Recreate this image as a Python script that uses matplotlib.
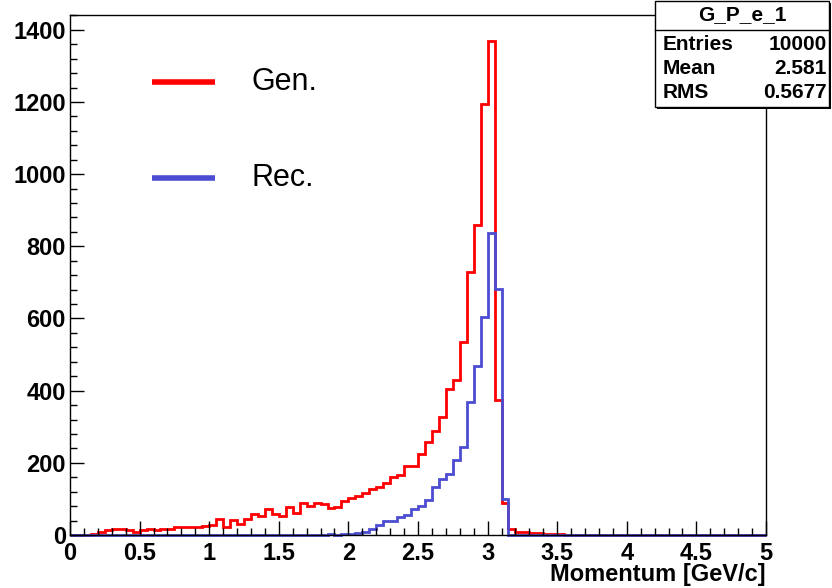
import numpy as np
import matplotlib
matplotlib.use('Agg')
import matplotlib.pyplot as plt
from matplotlib.ticker import MultipleLocator
from matplotlib.patches import Rectangle
from matplotlib.lines import Line2D

plt.rcParams['font.family'] = ['Liberation Sans', 'DejaVu Sans']

# ---- data (100 bins, 0..5 GeV/c) ----
bin_edges = np.linspace(0.0, 5.0, 101)
gen_counts = [0, 0, 1, 2, 7, 13, 18, 18, 13, 9,
              15, 17, 13, 18, 18, 21, 21, 21, 23, 26,
              28, 44, 22, 42, 31, 45, 57, 54, 73, 59,
              52, 78, 61, 89, 79, 89, 87, 76, 78, 94,
              103, 107, 117, 127, 133, 145, 162, 166, 192, 192,
              224, 259, 289, 326, 405, 430, 536, 730, 859, 1195,
              1370, 374, 88, 18, 9, 8, 6, 5, 3, 3,
              2, 1, 1] + [0] * 27
rec_counts = [0] * 28 + [0, 1, 0, 1, 1, 0, 1, 1, 1, 2, 1, 2] + \
             [2, 5, 9, 17, 27, 38, 38, 51, 55, 73,
              80, 97, 134, 156, 168, 207, 244, 369, 467, 605,
              838, 682, 100] + [0] * 37
legend_labels = ['Gen.', 'Rec.']
stats_title = 'G_P_e_1'
stats_rows = [('Entries', '10000'), ('Mean', '2.581'), ('RMS', '0.5677')]
x_label = 'Momentum [GeV/c]'

red = '#ff0000'
blue = '#4c4cd2'

W, H = 832, 588
fig = plt.figure(figsize=(W / 100, H / 100), dpi=100)
ax = fig.add_axes([70 / W, 53 / H, 696 / W, 520 / H])

ax.stairs(gen_counts, bin_edges, color=red, lw=2, baseline=0, clip_on=False)
ax.stairs(rec_counts, bin_edges, color=blue, lw=2, baseline=0, clip_on=False)

ax.set_xlim(0, 5)
ax.set_ylim(0, 1441)
ax.xaxis.set_major_locator(MultipleLocator(0.5))
ax.xaxis.set_minor_locator(MultipleLocator(0.1))
ax.yaxis.set_major_locator(MultipleLocator(200))
ax.yaxis.set_minor_locator(MultipleLocator(40))
ax.xaxis.set_major_formatter(plt.FuncFormatter(lambda v, p: ('%g' % v)))
ax.tick_params(axis='both', which='both', direction='in', top=False, right=False)
ax.tick_params(axis='x', which='major', length=10, width=1, pad=5)
ax.tick_params(axis='x', which='minor', length=5, width=1)
ax.tick_params(axis='y', which='major', length=10, width=1, pad=3)
ax.tick_params(axis='y', which='minor', length=5, width=1)
for lab in ax.get_xticklabels() + ax.get_yticklabels():
    lab.set_fontsize(17)
    lab.set_fontweight('bold')
for s in ax.spines.values():
    s.set_linewidth(1)

fig.text(766 / W, 1 - 575 / H, x_label, ha='right', va='center',
         fontsize=17, fontweight='bold')

# legend
for (lab, col, yy) in zip(legend_labels, [red, blue], [82, 178]):
    fig.add_artist(Line2D([152 / W, 215 / W], [1 - yy / H, 1 - yy / H],
                          color=col, lw=4, solid_capstyle='butt'))
    fig.text(252 / W, 1 - yy / H, lab, ha='left', va='center', fontsize=22)

# stats box
bx0, bx1, by0, by1 = 655, 829, 1, 107
fig.add_artist(Rectangle((bx0 / W + 2 / W, 1 - (by1 + 2) / H), (bx1 - bx0) / W, (by1 - by0) / H,
                         transform=fig.transFigure, facecolor='black', edgecolor='none', zorder=5))
fig.add_artist(Rectangle((bx0 / W, 1 - by1 / H), (bx1 - bx0) / W, (by1 - by0) / H,
                         transform=fig.transFigure, facecolor='white', edgecolor='black',
                         lw=1, zorder=6))
fig.add_artist(Line2D([bx0 / W, bx1 / W], [1 - 30 / H, 1 - 30 / H], color='black', lw=1, zorder=7))
fig.text((bx0 + bx1) / 2 / W, 1 - 15 / H, stats_title, ha='center', va='center',
         fontsize=15, fontweight='bold', zorder=8)
for i, (k, v) in enumerate(stats_rows):
    yy = 44 + 24 * i
    fig.text(663 / W, 1 - yy / H, k, ha='left', va='center', fontsize=15,
             fontweight='bold', zorder=8)
    fig.text(827 / W, 1 - yy / H, v, ha='right', va='center', fontsize=15,
             fontweight='bold', zorder=8)

fig.savefig('out.png', dpi=100)
